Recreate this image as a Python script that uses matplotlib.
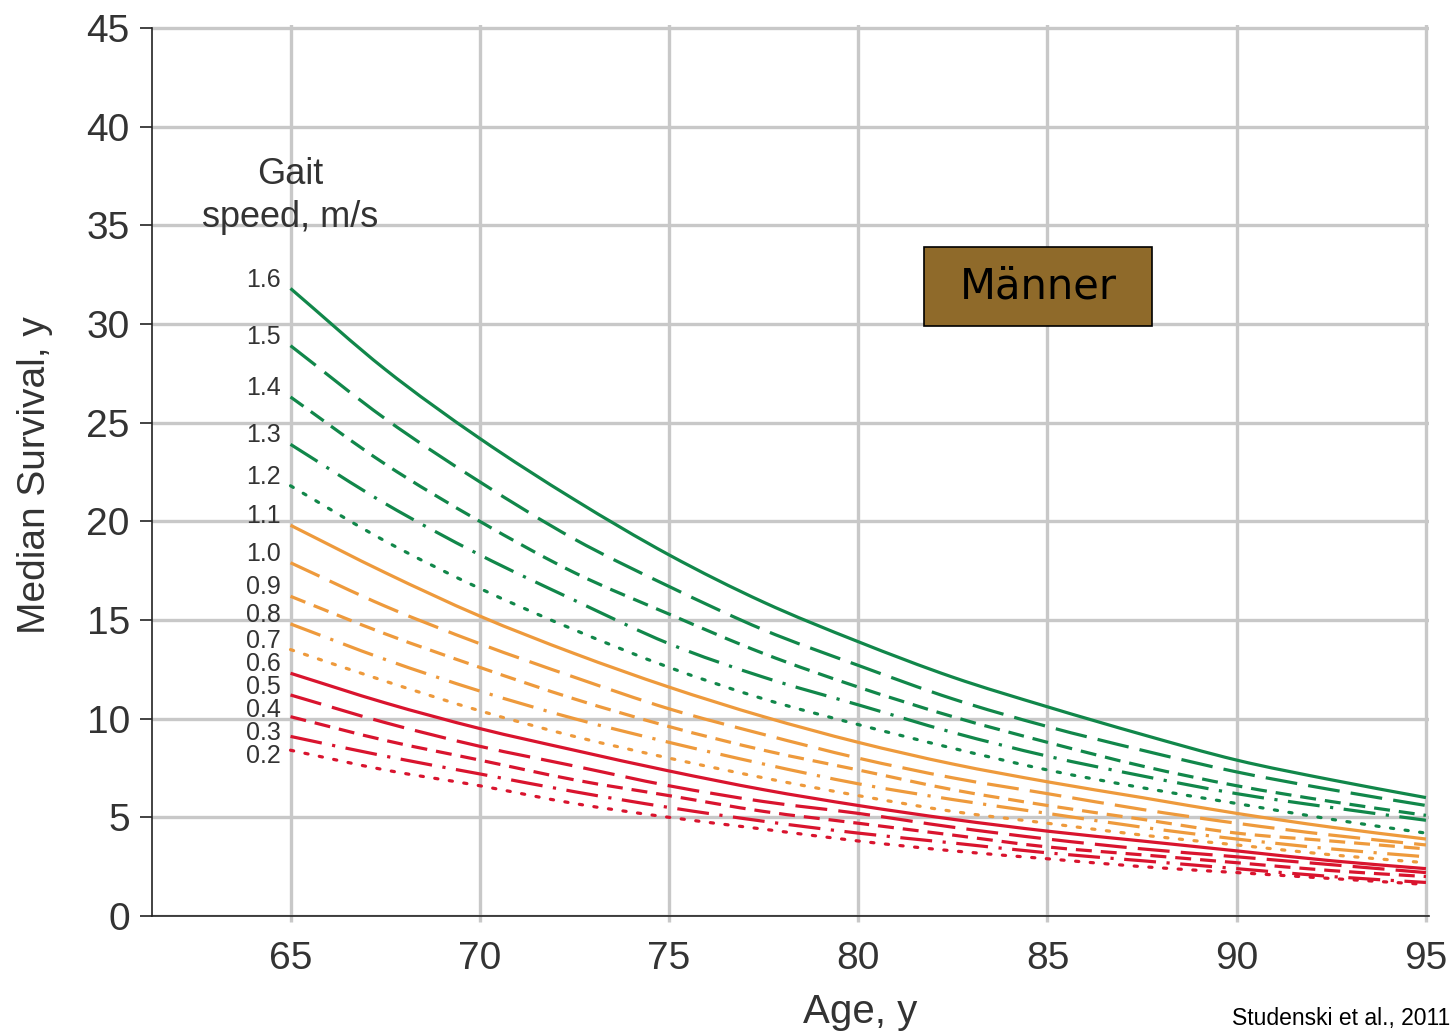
import matplotlib
matplotlib.use("Agg")
import matplotlib.pyplot as plt
from matplotlib.path import Path
from matplotlib.patches import PathPatch, Rectangle

# ---- data ----
ages = [65, 67.5, 70, 72.5, 75, 77.5, 80, 82.5, 85, 87.5, 90, 92.5, 95]

speed_labels = ["1.6", "1.5", "1.4", "1.3", "1.2",
                "1.1", "1.0", "0.9", "0.8", "0.7",
                "0.6", "0.5", "0.4", "0.3", "0.2"]

s16 = [31.8, 27.7, 24.2, 21.1, 18.3, 15.9, 13.9, 12.1, 10.6, 9.2, 7.9, 6.9, 6.0]
s15 = [28.9, 25.2, 22.0, 19.1, 16.7, 14.5, 12.7, 11.0, 9.6, 8.4, 7.3, 6.4, 5.6]
s14 = [26.3, 22.9, 20.0, 17.4, 15.3, 13.3, 11.6, 10.1, 8.8, 7.6, 6.6, 5.8, 5.1]
s13 = [23.9, 20.9, 18.3, 16.0, 13.8, 12.1, 10.7, 9.3, 8.1, 7.1, 6.2, 5.5, 4.85]
s12 = [21.8, 19.0, 16.6, 14.5, 12.6, 11.0, 9.7, 8.5, 7.4, 6.5, 5.7, 4.9, 4.2]
s11 = [19.8, 17.4, 15.2, 13.3, 11.6, 10.1, 8.8, 7.7, 6.8, 6.0, 5.2, 4.5, 3.9]
s10 = [17.9, 15.7, 13.8, 12.1, 10.5, 9.2, 8.0, 7.0, 6.2, 5.4, 4.7, 4.1, 3.6]
s09 = [16.2, 14.3, 12.6, 11.0, 9.6, 8.4, 7.4, 6.4, 5.6, 4.9, 4.2, 3.8, 3.4]
s08 = [14.8, 13.0, 11.4, 10.0, 8.8, 7.7, 6.7, 5.9, 5.2, 4.5, 3.9, 3.4, 3.0]
s07 = [13.5, 11.9, 10.4, 9.1, 8.0, 7.0, 6.1, 5.3, 4.7, 4.1, 3.6, 3.1, 2.7]
s06 = [12.3, 10.8, 9.5, 8.4, 7.35, 6.4, 5.6, 4.9, 4.3, 3.8, 3.3, 2.8, 2.4]
s05 = [11.2, 9.8, 8.6, 7.6, 6.6, 5.8, 5.2, 4.5, 3.9, 3.4, 3.0, 2.6, 2.2]
s04 = [10.1, 8.9, 7.9, 6.9, 6.1, 5.3, 4.7, 4.1, 3.5, 3.1, 2.7, 2.3, 2.0]
s03 = [9.1, 8.1, 7.2, 6.3, 5.5, 4.8, 4.2, 3.7, 3.2, 2.8, 2.4, 2.0, 1.7]
s02 = [8.4, 7.4, 6.6, 5.7, 5.0, 4.4, 3.8, 3.3, 2.9, 2.5, 2.2, 1.9, 1.6]

series = [s16, s15, s14, s13, s12, s11, s10, s09, s08, s07, s06, s05, s04, s03, s02]

xticks = [65, 70, 75, 80, 85, 90, 95]
yticks = [0, 5, 10, 15, 20, 25, 30, 35, 40, 45]

# ---- styles ----
GREEN = "#11874a"
ORANGE = "#ee9a3c"
RED = "#d9142e"
group_colors = [GREEN] * 5 + [ORANGE] * 5 + [RED] * 5
styles = ["-", (0, (10, 3.5)), (0, (5, 2.8)), (0, (10, 3.3, 1, 3.3)), (0, (1, 3.6))]
line_styles = styles * 3

plt.rcParams["font.family"] = ["Liberation Sans", "DejaVu Sans"]
TXT = "#333333"
GRID = "#c8c8c8"

W, H = 1453, 1034
fig = plt.figure(figsize=(W / 100, H / 100), dpi=100)
ax = fig.add_axes([152 / W, 1 - 916 / H, (1429 - 152) / W, (916 - 25) / H])


def smooth_path(xs, ys):
    """Cubic Bezier path passing through the data points (drawn by matplotlib)."""
    n = len(xs)
    verts = [(xs[0], ys[0])]
    codes = [Path.MOVETO]
    def tangent(i):
        if i == 0:
            return (xs[1] - xs[0], ys[1] - ys[0])
        if i == n - 1:
            return (xs[-1] - xs[-2], ys[-1] - ys[-2])
        return ((xs[i + 1] - xs[i - 1]) / 2, (ys[i + 1] - ys[i - 1]) / 2)
    for i in range(n - 1):
        t0, t1 = tangent(i), tangent(i + 1)
        verts += [(xs[i] + t0[0] / 3, ys[i] + t0[1] / 3),
                  (xs[i + 1] - t1[0] / 3, ys[i + 1] - t1[1] / 3),
                  (xs[i + 1], ys[i + 1])]
        codes += [Path.CURVE4] * 3
    return Path(verts, codes)


for vals, col, ls in zip(series, group_colors, line_styles):
    patch = PathPatch(smooth_path(ages, vals), facecolor="none", edgecolor=col,
                      linestyle=ls, linewidth=2.3,
                      capstyle="round" if ls == styles[4] else "butt", zorder=3)
    ax.add_patch(patch)

# gait speed labels, stacked so they do not collide
min_gap = 1.16
prev = None
for lab, vals in zip(speed_labels, series):
    y = vals[0] + 0.45
    if prev is not None and y > prev - min_gap:
        y = prev - min_gap
    prev = y
    ax.annotate(lab, xy=(ages[0], y), xytext=(-7, 0), textcoords="offset points",
                ha="right", va="center", fontsize=18, color=TXT, zorder=4)

ax.text(65, 36.5, "Gait\nspeed, m/s", ha="center", va="center", fontsize=26,
        color=TXT, linespacing=1.3)

ax.set_xlim(61.34, 95.08)
ax.set_ylim(0, 45.15)
ax.set_xticks(xticks)
ax.set_yticks(yticks)
ax.grid(True, color=GRID, linewidth=2.4, zorder=0)
ax.set_axisbelow(True)

for side in ["top", "right"]:
    ax.spines[side].set_visible(False)
for side in ["left", "bottom"]:
    ax.spines[side].set_color("#222222")
    ax.spines[side].set_linewidth(1.2)
ax.spines["left"].set_bounds(0, 45)

ax.tick_params(axis="y", length=9, width=1.2, color="#222222", pad=7,
               labelsize=28, labelcolor=TXT)
ax.tick_params(axis="x", length=4, width=2.4, color=GRID, pad=14,
               labelsize=28, labelcolor=TXT)

ax.set_xlabel("Age, y", fontsize=29, color=TXT)
ax.xaxis.set_label_coords((860 - 152) / (1429 - 152), -(1012 - 916) / (916 - 25))
ax.xaxis.label.set_va("center")
ax.set_ylabel("Median Survival, y", fontsize=28, color=TXT)
ax.yaxis.set_label_coords(-(152 - 35) / (1429 - 152), (916 - 475) / (916 - 25))
ax.yaxis.label.set_va("center")

# "Männer" box
fig.add_artist(Rectangle((924 / W, 1 - 326 / H), (1152 - 924) / W, (326 - 247) / H,
                         transform=fig.transFigure, facecolor="#8f6a2a",
                         edgecolor="black", linewidth=1.2, zorder=5))
fig.text((924 + 1152) / 2 / W, 1 - (247 + 326) / 2 / H, "Männer",
         ha="center", va="center", fontsize=30, family="DejaVu Sans", color="black",
         zorder=6)

fig.text(1450 / W, 1 - 1030 / H, "Studenski et al., 2011", ha="right", va="bottom",
         fontsize=16.5, family="Liberation Sans", color="black")

fig.savefig("out.png", dpi=100, facecolor="white")
